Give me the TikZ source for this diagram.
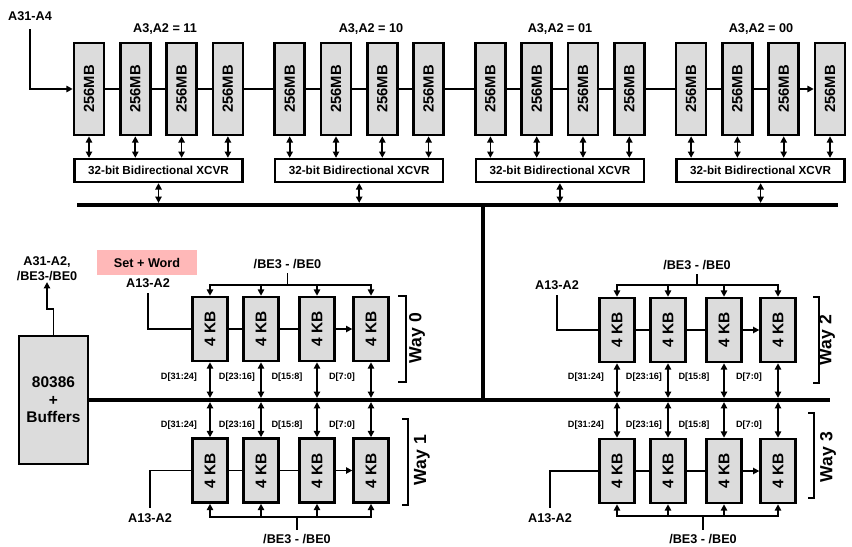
\documentclass[tikz,border=0pt]{standalone}
\usepackage{fontspec}
\setmainfont{Liberation Sans}
\usetikzlibrary{arrows.meta}

\definecolor{boxgray}{RGB}{220,220,220}
\definecolor{setpink}{RGB}{255,184,184}

\begin{document}
\begin{tikzpicture}[
  x=0.025cm, y=-0.025cm,
  >={Triangle[length=4.5pt,width=4.5pt]},
  font=\bfseries,
  mem/.style={draw, line width=1.8pt, fill=boxgray, minimum width=0.75cm, minimum height=2.3cm, inner sep=0pt, font=\bfseries\fontsize{10.5}{12}\selectfont},
  xcvr/.style={draw, line width=1.8pt, minimum width=4.2cm, minimum height=0.57cm, inner sep=0pt, font=\bfseries\fontsize{8.3}{10}\selectfont},
  kb/.style={draw, line width=1.8pt, fill=boxgray, minimum width=0.87cm, minimum height=1.6cm, inner sep=0pt, font=\bfseries\fontsize{11}{13}\selectfont},
  cpu/.style={draw, line width=1.8pt, fill=boxgray, minimum width=1.72cm, minimum height=3.2cm, align=center, font=\bfseries\fontsize{11}{12.5}\selectfont},
  lbl/.style={font=\bfseries\fontsize{9}{10.5}\selectfont, inner sep=1pt},
  dlbl/.style={font=\bfseries\fontsize{6.5}{8}\selectfont, inner sep=0pt},
  waylbl/.style={font=\bfseries\fontsize{12.5}{14}\selectfont, rotate=90},
  wire/.style={line width=1.2pt},
  dual/.style={wire, <->},
  bus/.style={line width=3pt},
  bracket/.style={line width=1.2pt}
]
  \useasboundingbox (0,0) rectangle (852,546);

  % memory banks
  \node[lbl] (a31) at (30,16) {A31-A4};
  \foreach \n in {1,...,16} {
    \pgfmathsetmacro\mx{89+200.7*int((\n-1)/4)+46.3*mod(\n-1,4)}
    \node[mem] (m\n) at (\mx,89) {\rotatebox{90}{256MB}};
  }
  \foreach \g/\txt/\lx in {1/11/165, 2/10/371, 3/01/560, 4/00/761} {
    \node[lbl] (g\g) at (\lx,29) {A3,A2 = \txt};
    \node[xcvr] (x\g) at ({158.5+200.7*(\g-1)},170.5) {32-bit Bidirectional XCVR};
  }

  \draw[wire,->,shorten <=5pt] (a31.south) |- (m1.west);
  \foreach \n [count=\k from 2] in {1,...,14}
    \draw[wire] (m\n.east) -- (m\k.west);
  \draw[wire,->] (m15.east) -- (m16.west);

  \foreach \n in {1,...,16} {
    \pgfmathtruncatemacro\g{int((\n-1)/4)+1}
    \draw[dual] (m\n.south) -- (m\n.south |- x\g.north);
  }

  % buses
  \coordinate (b1L) at (77,205);
  \coordinate (b1R) at (838,205);
  \coordinate (bj) at (483,205);
  \coordinate (b2R) at (830,400);
  \draw[bus] (b1L) -- (b1R);
  \foreach \g in {1,...,4}
    \draw[dual, shorten >=1.5pt] (x\g.south) -- (x\g.south |- b1L);

  \node[cpu] (cpu) at (53.5,400) {80386\\+\\Buffers};
  \draw[bus] (bj) -- (bj |- b2R);
  \draw[bus] (cpu.east) -- (b2R);

  \node[lbl, align=center] (addr) at (47,268.5) {A31-A2,\\/BE3-/BE0};
  \draw[wire,->] (cpu.north) -- ++(0,-26) -| (addr.south);
  \node[lbl, fill=setpink, minimum width=2.5cm, minimum height=0.62cm] (sw) at (147,262.5) {Set + Word};

  % cache ways
  \foreach \w/\dx/\cy in {0/0/329, 1/0/470.5, 2/407/330, 3/407/471} {
    \foreach \i/\cx in {1/210, 2/261, 3/317, 4/371}
      \node[kb] (c\w\i) at (\cx+\dx,\cy) {\rotatebox{90}{4 KB}};
    \draw[wire] (c\w1.east) -- (c\w2.west);
    \draw[wire] (c\w2.east) -- (c\w3.west);
    \draw[wire,->] (c\w3.east) -- (c\w4.west);
  }
  \foreach \w in {0,2}
    \foreach \i in {1,...,4}
      \draw[dual, shorten >=1.5pt] (c\w\i.south) -- (c\w\i.south |- b2R);
  \foreach \w in {1,3}
    \foreach \i in {1,...,4}
      \draw[dual, shorten >=1.5pt] (c\w\i.north) -- (c\w\i.north |- b2R);

  \foreach \w/\dx/\dy in {0/0/377, 1/0/425, 2/407/377, 3/407/425}
    \foreach \i/\lx/\t in {1/179/{D[31:24]}, 2/237/{D[23:16]}, 3/287/{D[15:8]}, 4/342/{D[7:0]}}
      \node[dlbl] (d\w\i) at (\lx+\dx,\dy) {\t};

  % address and byte enables
  \node[lbl] (aw0) at (148,283) {A13-A2};
  \node[lbl] (aw1) at (150,518) {A13-A2};
  \node[lbl] (aw2) at (557,285) {A13-A2};
  \node[lbl] (aw3) at (550,518) {A13-A2};
  \draw[wire, shorten <=3pt] (aw0.south) |- (c01.west);
  \draw[wire, shorten <=3pt] (aw1.north) |- (c11.west);
  \draw[wire, shorten <=3pt] (aw2.south) |- (c21.west);
  \draw[wire, shorten <=3pt] (aw3.north) |- (c31.west);

  \node[lbl] (be0) at (287.5,264) {/BE3 - /BE0};
  \node[lbl] (be1) at (297,539) {/BE3 - /BE0};
  \node[lbl] (be2) at (697,265) {/BE3 - /BE0};
  \node[lbl] (be3) at (703,539) {/BE3 - /BE0};
  \coordinate (bj0) at (287.5,285);
  \coordinate (bj1) at (297,517);
  \coordinate (bj2) at (697,285);
  \coordinate (bj3) at (703,516);
  \foreach \w in {0,...,3} {
    \draw[wire, shorten <=2pt] (be\w) -- (bj\w);
  }
  \foreach \i in {1,...,4} {
    \draw[wire,->] (bj0) -| (c0\i.north);
    \draw[wire,->] (bj1) -| (c1\i.south);
    \draw[wire,->] (bj2) -| (c2\i.north);
    \draw[wire,->] (bj3) -| (c3\i.south);
  }

  % way brackets
  \draw[bracket] (398,296) -- (406,296) -- (406,382) -- (398,382);
  \draw[bracket] (402,419) -- (408,419) -- (408,505) -- (402,505);
  \draw[bracket] (813,297) -- (819,297) -- (819,383) -- (813,383);
  \draw[bracket] (808,413) -- (814,413) -- (814,498) -- (808,498);
  \node[waylbl] (way0) at (417,338) {Way 0};
  \node[waylbl] (way1) at (422,460) {Way 1};
  \node[waylbl] (way2) at (827,340) {Way 2};
  \node[waylbl] (way3) at (828,457) {Way 3};
\end{tikzpicture}
\end{document}
